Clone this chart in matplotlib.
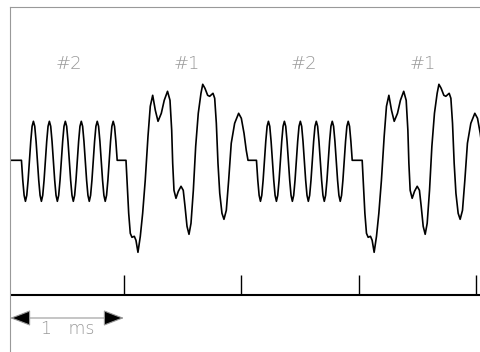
import numpy as np
import matplotlib.pyplot as plt

# order of the symbols on the trace and where each one starts (ms)
symbols = ['#2', '#1', '#2', '#1']
symbol_start_ms = [0.126, 1.017, 2.129, 3.030]

# symbol #1: trace (us from symbol start, amplitude)
sym1_time_us = [0, 8.5, 23, 36.6, 51, 70.7, 85, 102, 122, 142,
                164, 187.5, 207, 227.5, 250, 273, 301, 326, 354, 375,
                389.5, 398, 409, 426, 446, 469, 488, 503, 520, 537,
                554, 574, 594, 616, 639, 654, 673, 696, 713, 741.5,
                756, 770, 784, 799, 818, 835, 855, 875, 897, 926,
                960, 983, 1006, 1025, 1040]
sym1_amp = [0, -20, -53, -73, -77, -76, -80, -92, -76, -53,
            -20, 24, 54, 65, 50, 39, 47, 60, 69, 60,
            30, -3, -30, -38, -31, -26, -30, -46, -66, -74,
            -63, -30, 14, 47, 67, 76, 72, 65, 64, 67,
            62, 37, -3, -33, -53, -59, -50, -20, 17, 37,
            47, 42, 27, 10, 0]

# symbol #2: one cycle of a pure tone, played 6 times
sym2_cycle = [0, -20, -35, -41, -35, -20, 0, 19, 34, 39, 34, 19]
sym2_period_us = 136
sym2_n_cycles = 6

tick_ms = [1, 2, 3, 4]

GREY = '#999999'
FONT = ['DejaVu Sans']


def symbol_wave(name):
    if name == '#1':
        return np.array(sym1_time_us) / 1000.0, np.array(sym1_amp, dtype=float)
    n = len(sym2_cycle)
    t = np.arange(n * sym2_n_cycles + 1) * sym2_period_us / n / 1000.0
    a = np.array(sym2_cycle * sym2_n_cycles + [0], dtype=float)
    return t, a


x0, x1 = 0.0284, 4.0427

# stitch the symbols together, flat (zero) in the gaps
times = [x0]
amps = [0.0]
centers = []
for name, start in zip(symbols, symbol_start_ms):
    t, a = symbol_wave(name)
    times.extend(start + t)
    amps.extend(a)
    centers.append(start + t[-1] / 2)

fig = plt.figure(figsize=(4.81, 3.52), dpi=100)
ax = fig.add_axes([10 / 481, 0, 471 / 481, 345 / 352])
ax.set_xlim(x0, x1)
ax.set_ylim(-191.7, 153.3)
ax.set_xticks([])
ax.set_yticks([])
for side in ['right', 'bottom']:
    ax.spines[side].set_visible(False)
for side in ['left', 'top']:
    ax.spines[side].set_color(GREY)
    ax.spines[side].set_linewidth(0.8)

ax.plot(times, amps, color='black', lw=1.2)

# time axis with 1 ms ticks
ax.hlines(-134.7, x0, x1, color='black', lw=1.5)
ax.vlines(tick_ms, -134.7, -114.7, color='black', lw=1.0)

# scale arrow
ax.annotate('', xy=(x0, -157.7), xytext=(1.0, -157.7),
            arrowprops=dict(arrowstyle='<|-|>,head_length=1.3,head_width=0.5',
                            mutation_scale=10, fc='black', ec=GREY, lw=0.8,
                            shrinkA=0, shrinkB=0))
ax.text(0.29, -174.0, '1   ms', ha='left', va='baseline',
        fontsize=12.5, color=GREY, family=FONT, fontweight='light')

for name, c in zip(symbols, centers):
    ax.text(c, 91.3, name, ha='center', va='baseline', fontsize=13,
            color=GREY, family=FONT, fontweight='light')

fig.savefig('out.png', dpi=100)
